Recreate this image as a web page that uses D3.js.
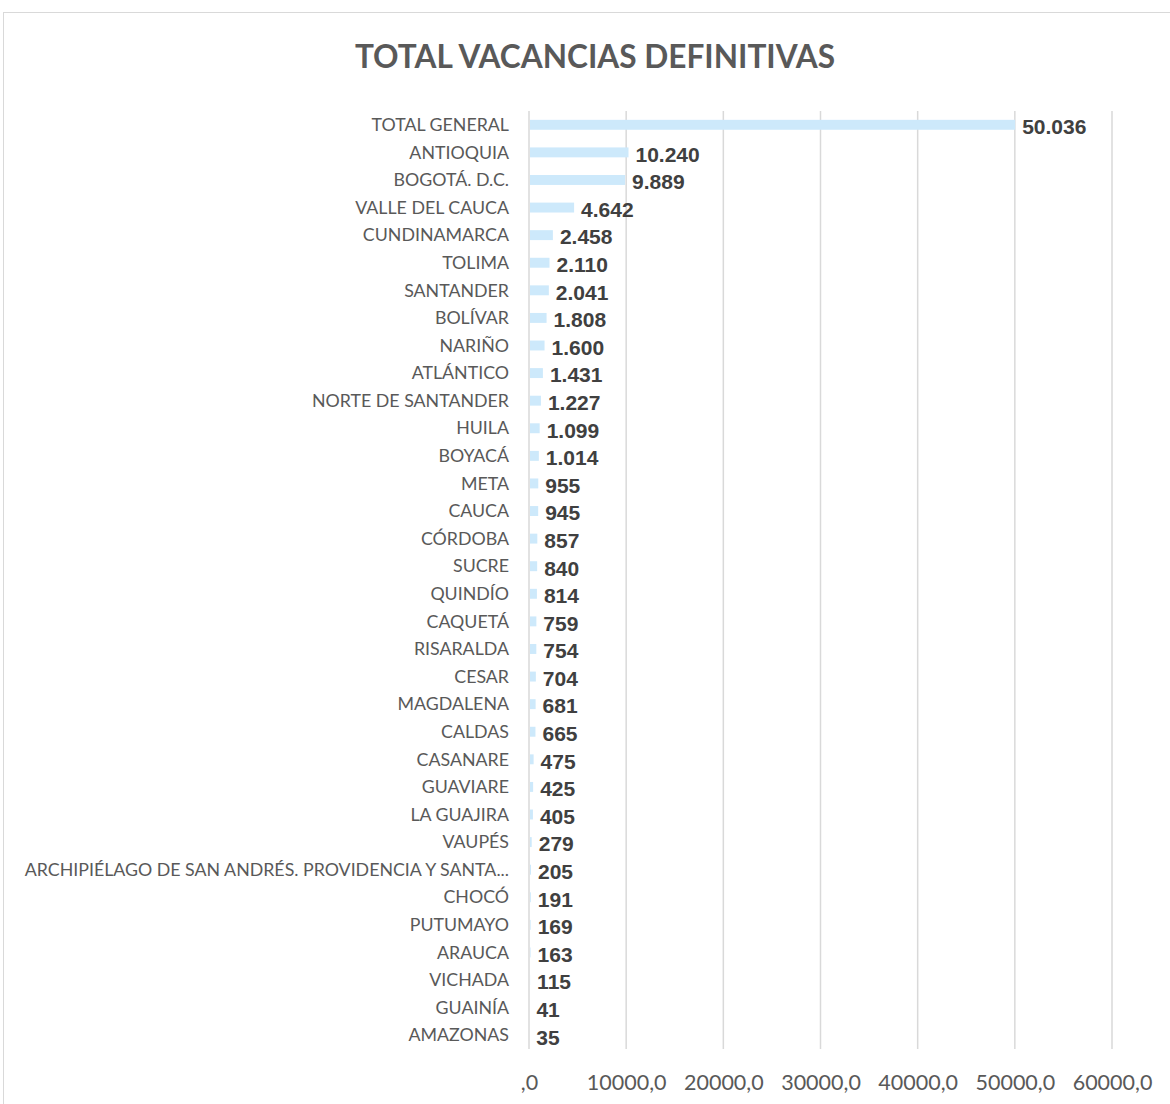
<!DOCTYPE html>
<html>
<head>
<meta charset="utf-8">
<script src="https://cdn.jsdelivr.net/npm/d3@7"></script>
<style>
  body { margin: 0; background: #fff; }
  svg { display: block; }
</style>
</head>
<body>
<svg id="chart" width="1170" height="1104"></svg>
<script>
const departments = [
  "TOTAL GENERAL", "ANTIOQUIA", "BOGOTÁ. D.C.", "VALLE DEL CAUCA", "CUNDINAMARCA",
  "TOLIMA", "SANTANDER", "BOLÍVAR", "NARIÑO", "ATLÁNTICO", "NORTE DE SANTANDER",
  "HUILA", "BOYACÁ", "META", "CAUCA", "CÓRDOBA", "SUCRE", "QUINDÍO", "CAQUETÁ",
  "RISARALDA", "CESAR", "MAGDALENA", "CALDAS", "CASANARE", "GUAVIARE", "LA GUAJIRA",
  "VAUPÉS", "ARCHIPIÉLAGO DE SAN ANDRÉS. PROVIDENCIA Y SANTA...", "CHOCÓ",
  "PUTUMAYO", "ARAUCA", "VICHADA", "GUAINÍA", "AMAZONAS"
];
const vacancias = [
  50036, 10240, 9889, 4642, 2458, 2110, 2041, 1808, 1600, 1431, 1227,
  1099, 1014, 955, 945, 857, 840, 814, 759, 754, 704, 681, 665, 475, 425, 405,
  279, 205, 191, 169, 163, 115, 41, 35
];
const xTicks = [0, 10000, 20000, 30000, 40000, 50000, 60000];
const title = "TOTAL VACANCIAS DEFINITIVAS";

const data = departments.map((d, i) => ({ name: d, value: vacancias[i] }));

const svg = d3.select("#chart");

// chart area border
svg.append("rect")
  .attr("x", 3.5).attr("y", 12.5)
  .attr("width", 1200).attr("height", 1200)
  .attr("fill", "#fff")
  .attr("stroke", "#d9d9d9");

svg.append("text")
  .attr("x", 595).attr("y", 68)
  .attr("text-anchor", "middle")
  .attr("font-family", "Lato, sans-serif")
  .attr("font-weight", "bold")
  .attr("font-size", 31.6)
  .attr("fill", "#595959")
  .text(title);

const x = d3.scaleLinear().domain([0, 60000]).range([529, 1112]);
const y = d3.scaleBand()
  .domain(departments)
  .range([111, 1049])
  .paddingInner(0.64)
  .paddingOuter(0.32);

// gridlines
svg.append("g")
  .selectAll("line")
  .data(xTicks)
  .join("line")
  .attr("x1", d => x(d)).attr("x2", d => x(d))
  .attr("y1", 111).attr("y2", 1049)
  .attr("stroke", "#d9d9d9")
  .attr("stroke-width", 1.5);

// bars
svg.append("g")
  .selectAll("rect")
  .data(data)
  .join("rect")
  .attr("x", x(0) + 1)
  .attr("y", d => y(d.name))
  .attr("width", d => Math.max(0, x(d.value) - x(0) - 1))
  .attr("height", y.bandwidth())
  .attr("fill", "#cde9fb");

// category labels
svg.append("g")
  .selectAll("text")
  .data(data)
  .join("text")
  .attr("x", 509)
  .attr("y", d => y(d.name) + y.bandwidth() / 2)
  .attr("dy", "0.35em")
  .attr("text-anchor", "end")
  .attr("font-family", "Lato, sans-serif")
  .attr("font-size", 17.8)
  .attr("fill", "#595959")
  .text(d => d.name);

// value labels
const fmt = d3.formatLocale({ decimal: ",", thousands: ".", grouping: [3], currency: ["", ""] }).format(",d");
svg.append("g")
  .selectAll("text")
  .data(data)
  .join("text")
  .attr("x", d => x(d.value) + 7)
  .attr("y", d => y(d.name) + y.bandwidth() / 2 + 2)
  .attr("dy", "0.35em")
  .attr("font-family", "'Liberation Sans', Arial, sans-serif")
  .attr("font-weight", "bold")
  .attr("font-size", 21)
  .attr("fill", "#404040")
  .text(d => fmt(d.value));

// x axis labels
const axis = d3.axisBottom(x)
  .tickValues(xTicks)
  .tickSize(0)
  .tickFormat(d => d === 0 ? ",0" : d + ",0");
const gx = svg.append("g")
  .attr("transform", "translate(0,1072)")
  .call(axis);
gx.select(".domain").remove();
gx.selectAll("text")
  .attr("font-family", "Lato, sans-serif")
  .attr("font-size", 21.5)
  .attr("fill", "#595959");
</script>
</body>
</html>
